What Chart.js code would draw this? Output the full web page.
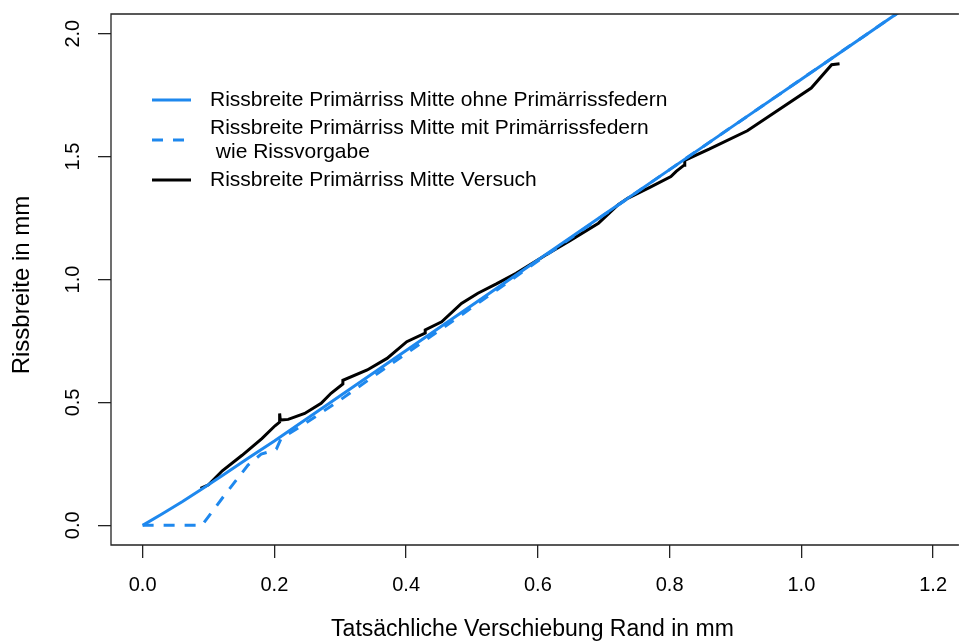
<!DOCTYPE html>
<html>
<head>
<meta charset="utf-8">
<script src="https://cdn.jsdelivr.net/npm/chart.js@4.4.1/dist/chart.umd.min.js"></script>
<style>
  html, body { margin: 0; padding: 0; background: #fff; overflow: hidden; }
  #wrap { width: 962px; height: 644px; }
</style>
</head>
<body>
<div id="wrap"><canvas id="chart" width="962" height="644"></canvas></div>
<script>
// Rissbreite Primärriss Mitte ohne Primärrissfedern
const xOhne = [0, 0.03, 0.06, 0.09, 0.12, 0.16, 0.2, 0.3, 0.4, 0.5, 0.6, 0.7, 0.8, 0.9, 1.0, 1.1, 1.2];
const yOhne = [0, 0.047, 0.096, 0.148, 0.201, 0.273, 0.343, 0.527, 0.711, 0.895, 1.079, 1.263, 1.447, 1.631, 1.815, 1.999, 2.183];

// Rissbreite Primärriss Mitte mit Primärrissfedern wie Rissvorgabe
const xMit = [0, 0.09, 0.125, 0.16, 0.18, 0.2, 0.203, 0.21, 0.25, 0.3, 0.35, 0.4, 0.45, 0.5, 0.6, 0.7, 0.8, 0.9, 1.0, 1.1, 1.2];
const yMit = [0, 0, 0.125, 0.245, 0.29, 0.305, 0.31, 0.352, 0.42, 0.51, 0.605, 0.698, 0.792, 0.886, 1.075, 1.262, 1.447, 1.631, 1.815, 1.999, 2.183];

// Rissbreite Primärriss Mitte Versuch
const xVersuch = [0.088, 0.1, 0.121, 0.151, 0.181, 0.201, 0.208, 0.208, 0.209, 0.221, 0.246, 0.271, 0.286, 0.304, 0.304,
    0.341, 0.371, 0.401, 0.429, 0.429, 0.454, 0.484, 0.509, 0.537, 0.567, 0.612, 0.65, 0.692, 0.722, 0.737,
    0.77, 0.802, 0.81, 0.822, 0.823, 0.86, 0.918, 0.96, 1.015, 1.046, 1.058];
const yVersuch = [0.15, 0.165, 0.222, 0.285, 0.353, 0.405, 0.42, 0.455, 0.428, 0.431, 0.455, 0.496, 0.537, 0.575, 0.59,
    0.632, 0.679, 0.747, 0.782, 0.795, 0.828, 0.903, 0.944, 0.982, 1.025, 1.10, 1.16, 1.229, 1.304, 1.331,
    1.375, 1.419, 1.44, 1.465, 1.485, 1.53, 1.605, 1.68, 1.779, 1.874, 1.878];

const xTicks = [0, 0.2, 0.4, 0.6, 0.8, 1.0, 1.2];
const yTicks = [0, 0.5, 1.0, 1.5, 2.0];

const legendLabels = [
    ['Rissbreite Primärriss Mitte ohne Primärrissfedern'],
    ['Rissbreite Primärriss Mitte mit Primärrissfedern', ' wie Rissvorgabe'],
    ['Rissbreite Primärriss Mitte Versuch']
];
const yTitle = 'Rissbreite in mm';

const FONT = '"Liberation Sans", Arial, Helvetica, sans-serif';
const TICK_SIZE = 20;
const LEGEND_SIZE = 21;
const TITLE_SIZE = 23;
const BLUE = '#1E88EE';

function pts(xs, ys) {
    return xs.map(function (x, i) { return {x: x, y: ys[i]}; });
}

// box (R draws it round the plot region), y tick labels, y title, legend
const extras = {
    id: 'extras',
    afterDraw(chart) {
        const ctx = chart.ctx;
        const a = chart.chartArea;
        const ys = chart.scales.y;
        ctx.save();
        ctx.strokeStyle = '#222';
        ctx.lineWidth = 1.3;
        ctx.beginPath();
        ctx.moveTo(a.right + 5, a.top);
        ctx.lineTo(a.left, a.top);
        ctx.lineTo(a.left, a.bottom);
        ctx.lineTo(a.right + 5, a.bottom);
        ctx.stroke();

        ctx.fillStyle = '#000';
        ctx.font = TICK_SIZE + 'px ' + FONT;
        ctx.textAlign = 'center';
        ctx.textBaseline = 'middle';
        yTicks.forEach(function (v) {
            ctx.save();
            ctx.translate(73, ys.getPixelForValue(v));
            ctx.rotate(-Math.PI / 2);
            ctx.fillText(v.toFixed(1), 0, 0);
            ctx.restore();
        });

        ctx.save();
        ctx.font = (TITLE_SIZE + 1) + 'px ' + FONT;
        ctx.translate(22, 285);
        ctx.rotate(-Math.PI / 2);
        ctx.fillText(yTitle, 0, 0);
        ctx.restore();

        // legend
        const rows = [
            {line: 100, text: [100]},
            {line: 140, text: [128, 152]},
            {line: 180, text: [180]}
        ];
        ctx.font = LEGEND_SIZE + 'px ' + FONT;
        ctx.textAlign = 'left';
        chart.data.datasets.forEach(function (ds, i) {
            ctx.strokeStyle = ds.borderColor;
            ctx.lineWidth = ds.borderWidth;
            ctx.setLineDash(ds.borderDash || []);
            ctx.beginPath();
            ctx.moveTo(152, rows[i].line);
            ctx.lineTo(191, rows[i].line);
            ctx.stroke();
            ctx.setLineDash([]);
            legendLabels[i].forEach(function (t, j) {
                ctx.fillText(t, 210, rows[i].text[j]);
            });
        });
        ctx.restore();
    }
};

new Chart(document.getElementById('chart'), {
    type: 'scatter',
    data: {
        datasets: [
            {data: pts(xOhne, yOhne), borderColor: BLUE, borderWidth: 3},
            {data: pts(xMit, yMit), borderColor: BLUE, borderWidth: 3, borderDash: [11, 10]},
            {data: pts(xVersuch, yVersuch), borderColor: '#000', borderWidth: 3}
        ]
    },
    options: {
        responsive: false,
        animation: false,
        showLine: true,
        elements: {point: {radius: 0, hoverRadius: 0}, line: {tension: 0, fill: false}},
        layout: {padding: {top: 14, right: 0, left: 0, bottom: 0}},
        plugins: {legend: {display: false}, tooltip: {enabled: false}},
        scales: {
            x: {
                type: 'linear',
                min: -0.048,
                max: 1.2316,
                afterBuildTicks(scale) { scale.ticks = xTicks.map(v => ({value: v})); },
                afterFit(scale) { scale.height = 99; },
                border: {display: false},
                grid: {drawOnChartArea: false, drawTicks: true, tickLength: 13, color: '#222', lineWidth: 1.3},
                ticks: {
                    color: '#000',
                    font: {family: FONT, size: TICK_SIZE},
                    padding: 15,
                    maxRotation: 0,
                    callback: v => v.toFixed(1)
                },
                title: {
                    display: true,
                    text: 'Tatsächliche Verschiebung Rand in mm',
                    color: '#000',
                    font: {family: FONT, size: TITLE_SIZE},
                    padding: {top: 0, bottom: 1}
                }
            },
            y: {
                type: 'linear',
                min: -0.08,
                max: 2.08,
                afterBuildTicks(scale) { scale.ticks = yTicks.map(v => ({value: v})); },
                afterFit(scale) { scale.width = 111; },
                border: {display: false},
                grid: {drawOnChartArea: false, drawTicks: true, tickLength: 13, color: '#222', lineWidth: 1.3},
                ticks: {display: false},
                title: {display: false}
            }
        }
    },
    plugins: [extras]
});
</script>
</body>
</html>
